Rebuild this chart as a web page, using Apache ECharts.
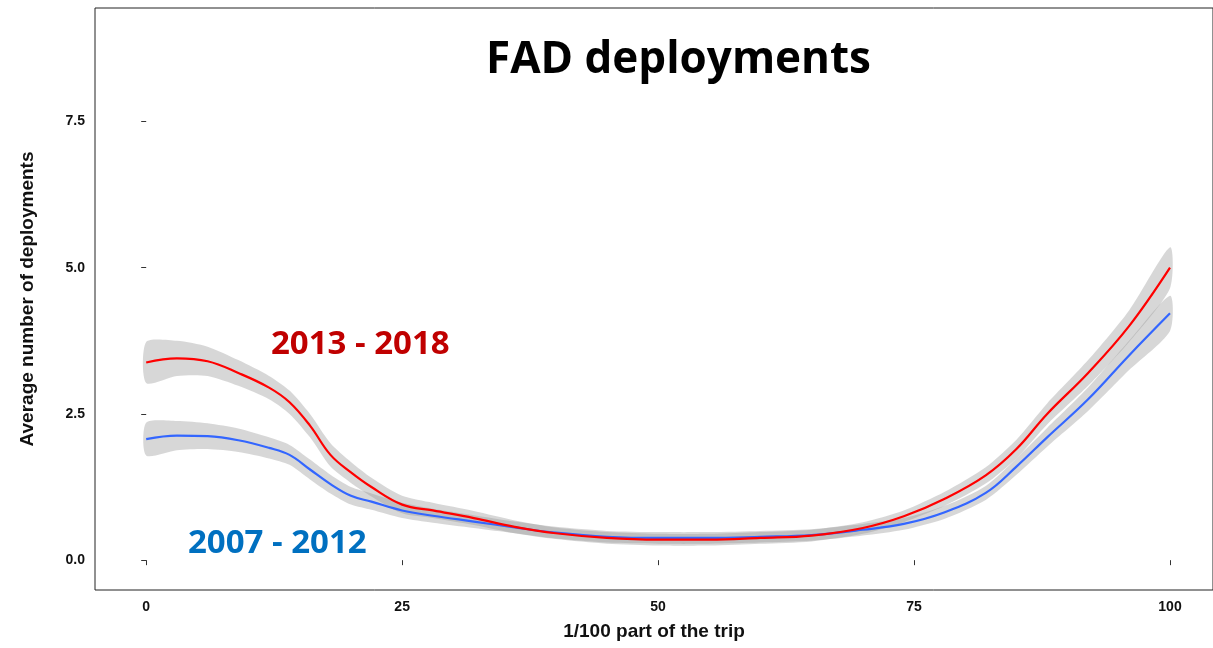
<!DOCTYPE html>
<html><head><meta charset="utf-8">
<script src="https://cdn.jsdelivr.net/npm/echarts@6/dist/echarts.min.js"></script>
<style>html,body{margin:0;padding:0;background:#fff}#c{width:1213px;height:648px}</style>
</head><body><div id="c"></div>
<script>
const xs = [0,3,6,9,12,14,16,18,20,22,25,28,32,36,40,45,50,55,60,65,70,74,78,82,85,88,92,96,100];
const red = [3.38,3.45,3.4,3.2,2.95,2.7,2.3,1.8,1.5,1.25,0.95,0.85,0.72,0.57,0.46,0.38,0.35,0.35,0.38,0.42,0.55,0.75,1.05,1.45,1.9,2.5,3.2,4.0,5.0];
const blue = [2.07,2.13,2.12,2.05,1.92,1.8,1.55,1.3,1.1,1.0,0.85,0.76,0.66,0.56,0.47,0.4,0.38,0.38,0.4,0.43,0.52,0.62,0.82,1.15,1.6,2.1,2.75,3.5,4.22];
const redBand = [0.35,0.3,0.25,0.22,0.2,0.2,0.2,0.2,0.18,0.16,0.15,0.13,0.12,0.11,0.1,0.1,0.1,0.1,0.1,0.1,0.1,0.1,0.12,0.14,0.16,0.18,0.22,0.27,0.35];
const blueBand = [0.28,0.25,0.22,0.2,0.18,0.17,0.17,0.16,0.15,0.14,0.13,0.12,0.11,0.1,0.1,0.1,0.1,0.1,0.1,0.1,0.1,0.1,0.11,0.12,0.14,0.16,0.2,0.25,0.3];
const yTicks = [0, 2.5, 5, 7.5];
const xTicks = [0, 25, 50, 75, 100];

const pts = (ys) => xs.map((x, i) => [x, ys[i]]);
function band(mid, half) {
  return {
    type: 'custom', silent: true, z: 1, data: [0],
    renderItem: (params, api) => {
      const up = xs.map((x, i) => api.coord([x, mid[i] + half[i]]));
      const lo = xs.map((x, i) => api.coord([x, mid[i] - half[i]])).reverse();
      return { type: 'polygon', shape: { points: up.concat(lo), smooth: 0.25 },
               style: { fill: 'rgba(150,150,150,0.38)' } };
    }
  };
}

const chart = echarts.init(document.getElementById('c'));
const axisFont = { color: '#111', fontWeight: 'bold', fontSize: 14, fontFamily: 'Liberation Sans' };
chart.setOption({
  animation: false,
  grid: { left: 95, top: 8, right: 0, bottom: 58, show: true, borderColor: '#222', borderWidth: 1 },
  xAxis: {
    type: 'value', min: -5, max: 104.2, splitLine: { show: false },
    axisLine: { show: false },
    axisTick: { show: true, length: 5, customValues: xTicks, lineStyle: { color: '#333' } },
    axisLabel: Object.assign({ customValues: xTicks, margin: 10 }, axisFont),
    name: '1/100 part of the trip', nameLocation: 'middle', nameGap: 32,
    nameTextStyle: { color: '#111', fontWeight: 'bold', fontSize: 19, fontFamily: 'Liberation Sans' }
  },
  yAxis: {
    type: 'value', min: -0.51, max: 9.44, splitLine: { show: false },
    axisLine: { show: false },
    axisTick: { show: true, length: 5, customValues: yTicks, lineStyle: { color: '#333' } },
    axisLabel: Object.assign({ customValues: yTicks, margin: 10, formatter: v => v.toFixed(1) }, axisFont),
    name: 'Average number of deployments', nameLocation: 'middle', nameGap: 58,
    nameTextStyle: { color: '#111', fontWeight: 'bold', fontSize: 19, fontFamily: 'Liberation Sans' }
  },
  series: [
    band(red, redBand),
    band(blue, blueBand),
    { type: 'line', smooth: 0.4, symbol: 'none', z: 3, data: pts(blue), lineStyle: { color: '#3366ff', width: 2.2 } },
    { type: 'line', smooth: 0.4, symbol: 'none', z: 4, data: pts(red), lineStyle: { color: '#ff0000', width: 2.2 } }
  ],
  graphic: [
    { type: 'text', left: 486, top: 38, z: 100, style: { text: 'FAD deployments', fontSize: 44, fontWeight: 'bold', fontFamily: 'Open Sans', fill: '#000' } },
    { type: 'text', left: 271, top: 328, z: 100, style: { text: '2013 - 2018', fontSize: 33, fontWeight: 'bold', fontFamily: 'Open Sans', fill: '#c00000' } },
    { type: 'text', left: 188, top: 527, z: 100, style: { text: '2007 - 2012', fontSize: 33, fontWeight: 'bold', fontFamily: 'Open Sans', fill: '#0070c0' } }
  ]
});
</script></body></html>
